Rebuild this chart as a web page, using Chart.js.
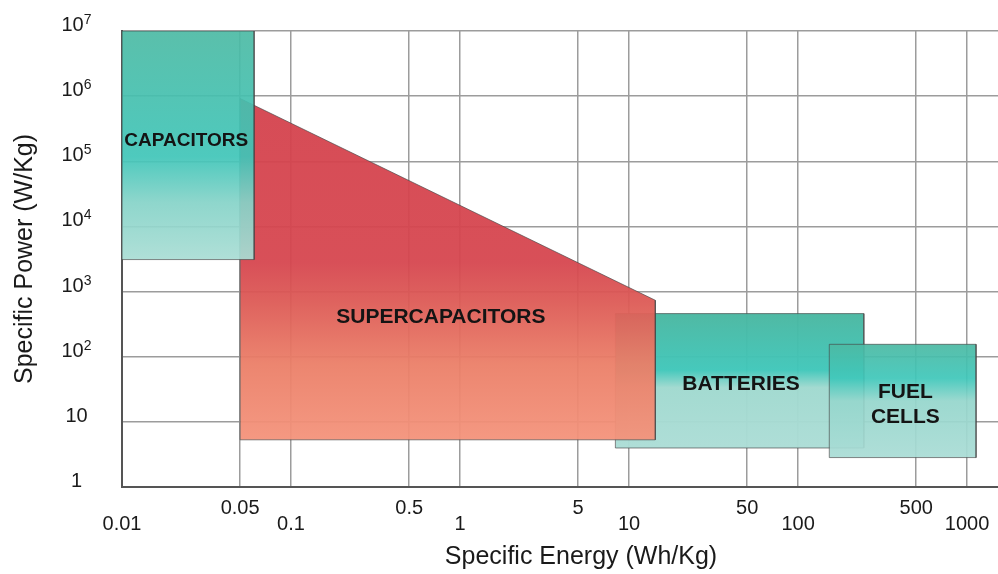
<!DOCTYPE html>
<html>
<head>
<meta charset="utf-8">
<title>Ragone plot</title>
<script src="https://cdn.jsdelivr.net/npm/chart.js@4.4.1/dist/chart.umd.min.js"></script>
<style>
  html, body { margin: 0; padding: 0; background: #fff; overflow: hidden; }
  #wrap { width: 998px; height: 574px; overflow: hidden; }
</style>
</head>
<body>
<div id="wrap"><canvas id="ragoneChart" width="1040" height="574"></canvas></div>
<script>
// ---- data (Wh/Kg on x, W/Kg on y) ----
const xTicks = [0.01, 0.05, 0.1, 0.5, 1, 5, 10, 50, 100, 500, 1000];
const xTickLabels = ['0.01', '0.05', '0.1', '0.5', '1', '5', '10', '50', '100', '500', '1000'];
const yTicks = [1, 10, 100, 1e3, 1e4, 1e5, 1e6, 1e7];
const yTickBase = ['1', '10', '10', '10', '10', '10', '10', '10'];
const yTickPower = ['', '', '2', '3', '4', '5', '6', '7'];

const regionNames = [['CAPACITORS'], ['SUPERCAPACITORS'], ['BATTERIES'], ['FUEL', 'CELLS']];

// top edge (energy -> power) and bottom power of each region
const capEnergy = [0.01, 0.0605];
const capPowerTop = [1e7, 1e7];
const capPowerBottom = 3100;

const superEnergy = [0.05, 14.3];
const superPowerTop = [9.2e5, 735];
const superPowerBottom = 5.3;

const battEnergy = [8.3, 245];
const battPowerTop = [459, 459];
const battPowerBottom = 3.97;

const fuelEnergy = [153, 1130];
const fuelPowerTop = [155, 155];
const fuelPowerBottom = 2.83;

const labelEnergy = [0.024, 0.77, 46, 431];
const labelPower = [2.1e5, 403, 37.7, 18.6];

// ---- helpers ----
function topEdge(energy, top) {
    return energy.map((e, i) => ({ x: e, y: top[i] }));
}
function outline(energy, top, bottom) {
    return [
        { x: energy[0], y: bottom },
        { x: energy[0], y: top[0] },
        { x: energy[1], y: top[1] },
        { x: energy[1], y: bottom },
        { x: energy[0], y: bottom }
    ];
}
function vGrad(chart, topVal, bottomVal, stops) {
    if (!chart.chartArea) return 'rgba(0,0,0,0)';
    const ys = chart.scales.y;
    const g = chart.ctx.createLinearGradient(0, ys.getPixelForValue(topVal), 0, ys.getPixelForValue(bottomVal));
    stops.forEach(s => g.addColorStop(s[0], s[1]));
    return g;
}

const tealStops = (a) => [
    [0, `rgba(76,186,164,${a})`], [0.55, `rgba(63,197,184,${a})`],
    [0.75, `rgba(133,211,200,${a})`], [1, `rgba(169,221,212,${a})`]
];
const battStops = (a) => [
    [0, `rgba(74,183,161,${a})`], [0.42, `rgba(64,199,186,${a})`],
    [0.55, `rgba(160,217,207,${a})`], [1, `rgba(172,221,214,${a})`]
];
const fuelStops = (a) => [
    [0, `rgba(76,185,163,${a})`], [0.3, `rgba(63,199,186,${a})`],
    [0.5, `rgba(149,214,204,${a})`], [1, `rgba(169,220,213,${a})`]
];
const redStops = (a) => [
    [0, `rgba(212,66,77,${a})`], [0.48, `rgba(214,70,79,${a})`], [0.6, `rgba(221,91,86,${a})`],
    [0.78, `rgba(235,127,104,${a})`], [1, `rgba(244,147,123,${a})`]
];

const edge = 'rgba(70,70,70,0.65)';

function areaSet(energy, top, bottom, stops, order) {
    return {
        data: topEdge(energy, top),
        fill: { value: bottom },
        backgroundColor: (c) => vGrad(c.chart, Math.max(...top), bottom, stops),
        borderWidth: 0,
        pointRadius: 0,
        order: order
    };
}
function lineSet(energy, top, bottom, order) {
    return {
        data: outline(energy, top, bottom),
        fill: false,
        borderColor: edge,
        borderWidth: 1,
        pointRadius: 0,
        order: order
    };
}

const font = '"Liberation Sans", Arial, sans-serif';

// y tick labels with exponents + region labels
const textPlugin = {
    id: 'ragoneText',
    afterDatasetsDraw(chart) {
        const { ctx, scales: { x, y } } = chart;
        ctx.save();
        ctx.fillStyle = '#141414';
        ctx.textAlign = 'center';
        ctx.textBaseline = 'middle';
        regionNames.forEach((lines, i) => {
            ctx.font = (i === 0 ? 'bold 19px ' : 'bold 21px ') + font;
            const px = x.getPixelForValue(labelEnergy[i]);
            const py = y.getPixelForValue(labelPower[i]);
            lines.forEach((t, j) => {
                ctx.fillText(t, px, py + (j - (lines.length - 1) / 2) * 25);
            });
        });
        ctx.restore();
    },
    afterDraw(chart) {
        const { ctx, scales: { y } } = chart;
        ctx.save();
        ctx.fillStyle = '#1a1a1a';
        ctx.textBaseline = 'alphabetic';
        ctx.textAlign = 'left';
        const baseFont = '20px ' + font;
        const powFont = '14px ' + font;
        yTicks.forEach((v, i) => {
            const py = y.getPixelForValue(v);
            ctx.font = baseFont;
            const w1 = ctx.measureText(yTickBase[i]).width;
            ctx.font = powFont;
            const w2 = yTickPower[i] ? ctx.measureText(yTickPower[i]).width : 0;
            const left = 76.5 - (w1 + w2) / 2;
            ctx.font = baseFont;
            ctx.fillText(yTickBase[i], left, py);
            if (yTickPower[i]) {
                ctx.font = powFont;
                ctx.fillText(yTickPower[i], left + w1, py - 7);
            }
        });
        ctx.restore();
    }
};

new Chart(document.getElementById('ragoneChart'), {
    type: 'line',
    data: {
        datasets: [
            lineSet(capEnergy, capPowerTop, capPowerBottom, 1),
            areaSet(capEnergy, capPowerTop, capPowerBottom, tealStops(0.92), 2),
            lineSet(superEnergy, superPowerTop, superPowerBottom, 3),
            areaSet(superEnergy, superPowerTop, superPowerBottom, redStops(0.95), 4),
            lineSet(fuelEnergy, fuelPowerTop, fuelPowerBottom, 5),
            areaSet(fuelEnergy, fuelPowerTop, fuelPowerBottom, fuelStops(0.93), 6),
            lineSet(battEnergy, battPowerTop, battPowerBottom, 7),
            areaSet(battEnergy, battPowerTop, battPowerBottom, battStops(0.97), 8)
        ]
    },
    options: {
        responsive: false,
        animation: false,
        events: [],
        layout: { padding: { top: 31, left: 0, right: 0, bottom: 0 } },
        plugins: { legend: { display: false }, tooltip: { enabled: false } },
        elements: { line: { tension: 0 } },
        scales: {
            x: {
                type: 'logarithmic',
                min: 0.01,
                max: 2700,
                afterBuildTicks: (axis) => { axis.ticks = xTicks.map(v => ({ value: v })); },
                afterFit: (axis) => { axis.height = 87; },
                grid: { color: '#9c9c9c', lineWidth: 1.5, drawTicks: false },
                border: { color: '#555', width: 2 },
                ticks: {
                    autoSkip: false,
                    maxRotation: 0,
                    padding: 13,
                    color: '#1a1a1a',
                    font: { family: font, size: 20, lineHeight: 0.8 },
                    callback: (value, index) => {
                        const lead = Math.round(value / Math.pow(10, Math.floor(Math.log10(value) + 1e-9)));
                        return lead === 5 ? [xTickLabels[index], ''] : ['', xTickLabels[index]];
                    }
                },
                title: {
                    display: true,
                    text: 'Specific Energy (Wh/Kg)',
                    color: '#1a1a1a',
                    font: { family: font, size: 25 },
                    padding: { top: 0, bottom: 2 }
                }
            },
            y: {
                type: 'logarithmic',
                min: 1,
                max: 1e7,
                afterBuildTicks: (axis) => { axis.ticks = yTicks.map(v => ({ value: v })); },
                afterFit: (axis) => { axis.width = 122; },
                grid: { color: '#9c9c9c', lineWidth: 1.5, drawTicks: false },
                border: { color: '#555', width: 2 },
                ticks: { display: false },
                title: {
                    display: true,
                    text: 'Specific Power (W/Kg)',
                    color: '#1a1a1a',
                    font: { family: font, size: 25 },
                    padding: { top: 10, bottom: 0 }
                }
            }
        }
    },
    plugins: [textPlugin]
});
</script>
</body>
</html>
